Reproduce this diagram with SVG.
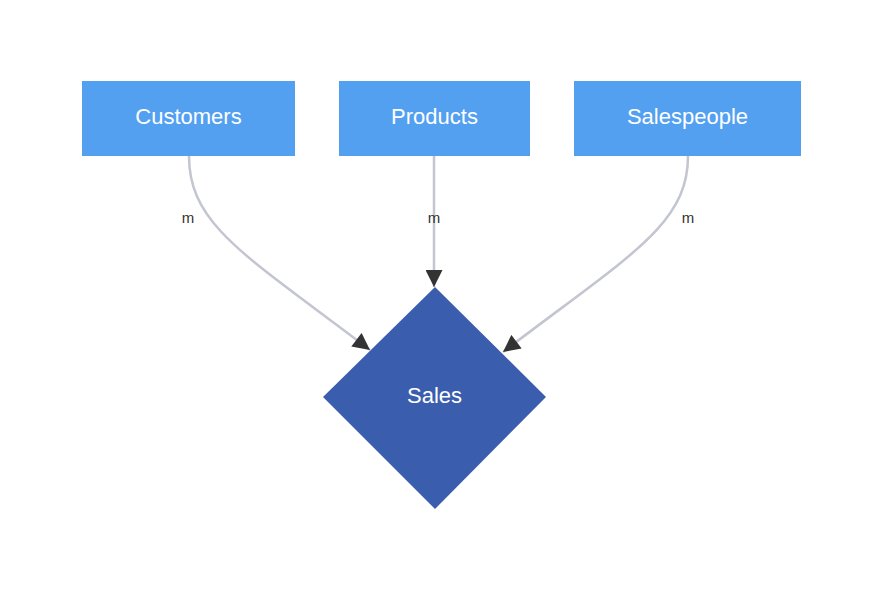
<svg xmlns="http://www.w3.org/2000/svg" width="883" height="593" viewBox="0 0 883 593">
<style>
.box{fill:#53a0f1;}
.dia{fill:#3b5dad;}
.lbl{font-family:"Liberation Sans",Arial,sans-serif;font-size:22px;fill:#ffffff;text-anchor:middle;dominant-baseline:central;}
.edge{fill:none;stroke:#c3c5d0;stroke-width:2.5;}
.el{font-family:"Liberation Sans",Arial,sans-serif;font-size:15px;fill:#333333;text-anchor:middle;dominant-baseline:central;}
</style>
<defs>
<marker id="arr" viewBox="0 0 10 10" refX="10" refY="5" markerUnits="userSpaceOnUse" markerWidth="18" markerHeight="17" orient="auto">
<path d="M0,0 L10,5 L0,10 z" fill="#333333"/>
</marker>
</defs>
<rect width="883" height="593" fill="#ffffff"/>
<g id="edges">
<path class="edge" d="M189,156 C189,225 245,255 370,350" marker-end="url(#arr)"/>
<path class="edge" d="M434,156 L434,287" marker-end="url(#arr)"/>
<path class="edge" d="M688,156 C688,225 630,255 503,352" marker-end="url(#arr)"/>
<text class="el" x="188" y="217">m</text>
<text class="el" x="434" y="217">m</text>
<text class="el" x="688" y="217">m</text>
</g>
<g id="customers">
<rect class="box" x="82" y="81" width="213" height="75"/>
<text class="lbl" x="188.5" y="116">Customers</text>
</g>
<g id="products">
<rect class="box" x="339" y="81" width="191" height="75"/>
<text class="lbl" x="434.5" y="116">Products</text>
</g>
<g id="salespeople">
<rect class="box" x="574" y="81" width="227" height="75"/>
<text class="lbl" x="687.5" y="116">Salespeople</text>
</g>
<g id="sales">
<polygon class="dia" points="435,287 546,397 435,509 323,397"/>
<text class="lbl" x="434.5" y="395">Sales</text>
</g>
</svg>
